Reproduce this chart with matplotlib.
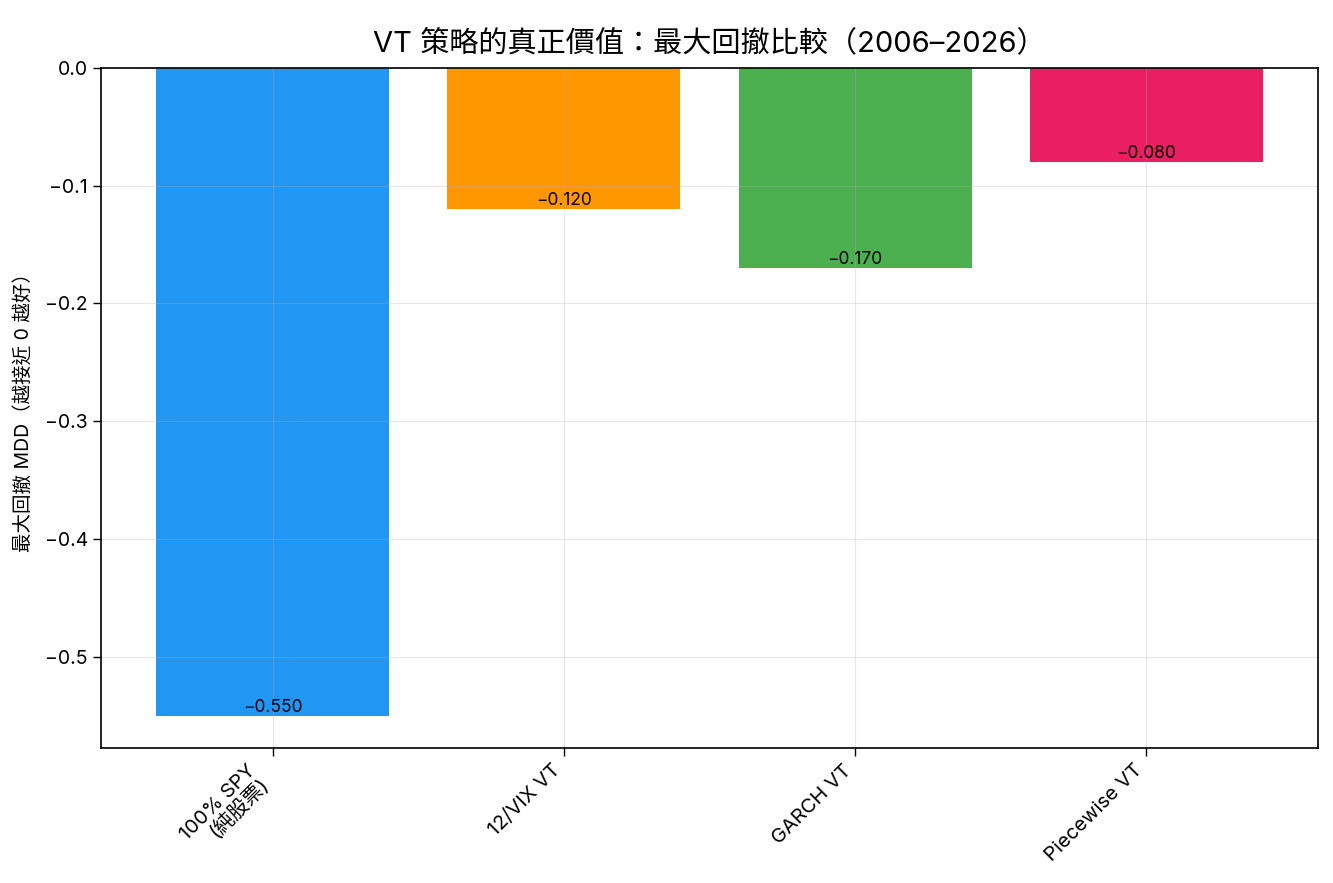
import numpy as np
import matplotlib
matplotlib.use("Agg")
import matplotlib.pyplot as plt

plt.rcParams['font.family'] = ['Inter', 'Noto Sans CJK TC', 'DejaVu Sans']
plt.rcParams['axes.unicode_minus'] = True

strategies = ["100% SPY\n(純股票)", "12/VIX VT", "GARCH VT", "Piecewise VT"]
mdd = [-0.55, -0.12, -0.17, -0.08]
colors = ["#2196F3", "#FF9800", "#4CAF50", "#E91E63"]

fig = plt.figure(figsize=(13.33, 8.83), dpi=100)
ax = fig.add_axes([101 / 1333, 1 - 748 / 883, 1217 / 1333, 680 / 883])

x = np.arange(len(strategies))
bars = ax.bar(x, mdd, color=colors, width=0.8)
for xi, v in zip(x, mdd):
    ax.text(xi, v, f"{v:.3f}".replace("-", "\u2212"), ha="center", va="bottom", fontsize=12.5)

ax.set_xticks(x)
ax.set_xticklabels(strategies, rotation=45, ha="right", fontsize=14.5, linespacing=0.95)
ax.tick_params(axis="y", labelsize=14)
ax.tick_params(length=6, width=1)
ax.set_ylabel("最大回撤 MDD（越接近 0 越好）", fontsize=14, labelpad=8)
ax.set_title("VT 策略的真正價值：最大回撤比較（2006–2026）", fontsize=21, pad=12)
ax.grid(True, alpha=0.3)
for s in ax.spines.values():
    s.set_linewidth(1.2)

fig.savefig("out.png", dpi=100)
